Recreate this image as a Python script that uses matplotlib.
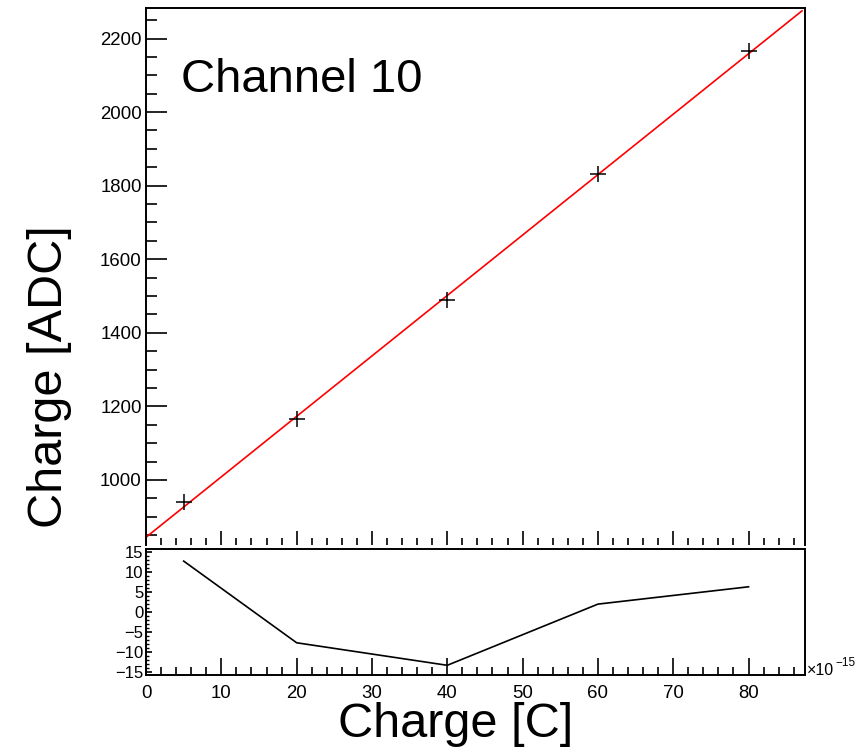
import numpy as np
import matplotlib
matplotlib.use("Agg")
import matplotlib.pyplot as plt
from matplotlib.ticker import MultipleLocator

plt.rcParams['font.family'] = ['Liberation Sans', 'DejaVu Sans']
plt.rcParams['axes.unicode_minus'] = True

# charge in units of 1e-15 C, measured ADC
charge_fC = np.array([5, 20, 40, 60, 80])
adc = np.array([939, 1165, 1488, 1832, 2165])
channel_label = "Channel 10"

# straight-line fit and residuals
slope, intercept = np.polyfit(charge_fC, adc, 1)
resid = adc - (slope * charge_fC + intercept)
fit_x = np.array([0.0, 87.1])

fig = plt.figure(figsize=(8.61, 7.48), dpi=100)
ax = fig.add_axes([0.1696, 0.2714, 0.9350 - 0.1696, 0.9893 - 0.2714])
axr = fig.add_axes([0.1696, 0.0976, 0.9350 - 0.1696, 0.2660 - 0.0976])

# top pad: data + fit
ax.plot(fit_x, slope * fit_x + intercept, color='red', lw=1.2)
ax.plot(charge_fC, adc, ls='none', marker='+', ms=11, mew=1.1, color='black')
ax.set_xlim(0, 87.5)
ax.set_ylim(823, 2283)
ax.yaxis.set_major_locator(MultipleLocator(200))
ax.yaxis.set_minor_locator(MultipleLocator(50))
ax.xaxis.set_major_locator(MultipleLocator(10))
ax.xaxis.set_minor_locator(MultipleLocator(2))
ax.tick_params(axis='y', which='major', direction='in', length=15, width=1.2,
               labelsize=13.4, pad=3)
ax.tick_params(axis='y', which='minor', direction='in', length=8, width=1.2)
ax.tick_params(axis='x', which='major', direction='in', length=10, width=1.2,
               labelbottom=False)
ax.tick_params(axis='x', which='minor', direction='in', length=5, width=1.2)
ax.spines['bottom'].set_visible(False)
for s in ['left', 'top', 'right']:
    ax.spines[s].set_linewidth(1.4)
ax.set_ylabel("Charge [ADC]", fontsize=35)
ax.yaxis.set_label_coords(-0.113, 0.313, transform=ax.transAxes)
ax.text(4.6, 2055, channel_label, fontsize=34, va='baseline', ha='left')

# bottom pad: residuals
axr.plot(charge_fC, resid, color='black', lw=1.2)
axr.set_xlim(0, 87.5)
axr.set_ylim(-15.8, 15.8)
axr.xaxis.set_major_locator(MultipleLocator(10))
axr.xaxis.set_minor_locator(MultipleLocator(2))
axr.yaxis.set_major_locator(MultipleLocator(5))
axr.yaxis.set_minor_locator(MultipleLocator(1))
axr.tick_params(axis='x', which='major', direction='in', length=12, width=1.2,
                labelsize=13.4, pad=7)
axr.tick_params(axis='x', which='minor', direction='in', length=6, width=1.2)
axr.tick_params(axis='y', which='major', direction='in', length=4, width=1.2,
                labelsize=12, pad=2)
axr.tick_params(axis='y', which='minor', direction='in', length=2.5, width=1.0)
for s in axr.spines.values():
    s.set_linewidth(1.4)
axr.set_xlabel("Charge [C]", fontsize=35, labelpad=0)
axr.xaxis.set_label_coords(0.47, -0.215, transform=axr.transAxes)
axr.xaxis.label.set_va('top')

# exponent label at the right end of the x axis
axr.annotate("\u00d710", xy=(1.0, 0.0), xycoords='axes fraction',
             xytext=(2, 0), textcoords='offset pixels',
             fontsize=11.5, ha='left', va='baseline')
axr.annotate("\u221215", xy=(1.0, 0.0), xycoords='axes fraction',
             xytext=(30, 9), textcoords='offset pixels',
             fontsize=8.5, ha='left', va='baseline')

fig.savefig("out.png", dpi=100)
